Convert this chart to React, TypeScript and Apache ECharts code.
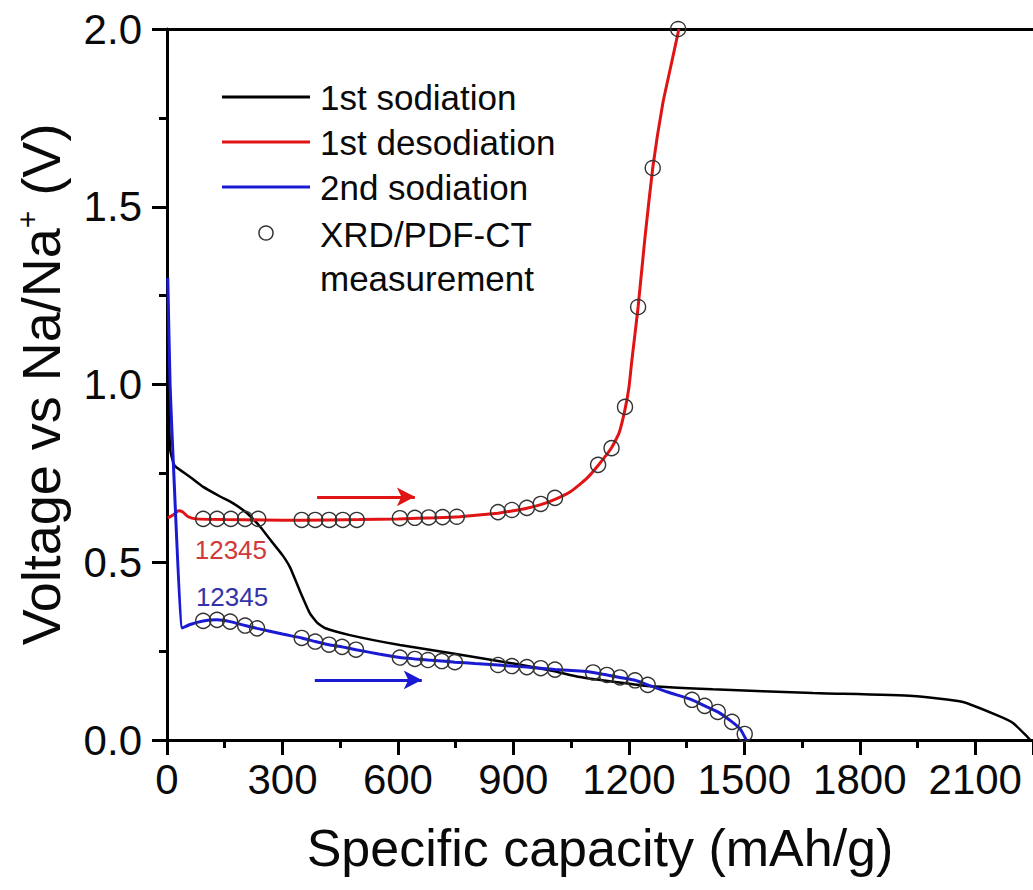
import React, { useEffect, useRef } from 'react';
import * as echarts from 'echarts';

// ---- data (capacity mAh/g, voltage V) ----
const sodiation1: [number, number][] = [
  [1, 1.4], [4, 1.0], [8, 0.82], [15, 0.785], [21, 0.77], [60, 0.74], [94, 0.712], [138, 0.685],
  [170, 0.667], [208, 0.638], [242, 0.6], [275, 0.554], [300, 0.52], [320, 0.485], [345, 0.42],
  [371, 0.357], [390, 0.33], [410, 0.315], [475, 0.295], [605, 0.267], [735, 0.245], [900, 0.215],
  [1000, 0.195], [1073, 0.177], [1150, 0.165], [1247, 0.152], [1418, 0.143], [1678, 0.132],
  [1938, 0.124], [2068, 0.107], [2156, 0.07], [2198, 0.048], [2236, 0.008], [2243, 0],
];

const desodiation1: [number, number][] = [
  [2, 0.625], [15, 0.632], [30, 0.645], [40, 0.642], [55, 0.628], [75, 0.622], [150, 0.62],
  [250, 0.619], [350, 0.618], [500, 0.62], [600, 0.622], [700, 0.625], [760, 0.628], [860, 0.638],
  [900, 0.645], [935, 0.652], [971, 0.662], [1008, 0.677], [1050, 0.7], [1090, 0.735], [1120, 0.772],
  [1155, 0.822], [1175, 0.865], [1190, 0.93], [1200, 0.99], [1208, 1.07], [1224, 1.218],
  [1242, 1.415], [1262, 1.609], [1288, 1.79], [1310, 1.9], [1330, 2.0],
];

const sodiation2: [number, number][] = [
  [2, 1.3], [8, 1.0], [16, 0.79], [40, 0.315], [60, 0.325], [94, 0.335], [130, 0.338], [164, 0.333],
  [203, 0.322], [234, 0.314], [300, 0.298], [350, 0.287], [385, 0.277], [421, 0.268], [455, 0.262],
  [491, 0.254], [550, 0.242], [605, 0.232], [644, 0.228], [678, 0.225], [714, 0.222], [748, 0.219],
  [800, 0.215], [860, 0.211], [896, 0.208], [935, 0.205], [971, 0.202], [1008, 0.198], [1073, 0.194],
  [1107, 0.19], [1143, 0.183], [1177, 0.176], [1216, 0.168], [1249, 0.155], [1300, 0.135],
  [1364, 0.113], [1397, 0.096], [1431, 0.079], [1468, 0.051], [1490, 0.03], [1505, 0],
];

const measurements: [number, number][] = [
  // on 1st desodiation
  [94, 0.622], [130, 0.622], [166, 0.622], [203, 0.622], [237, 0.622],
  [350, 0.619], [385, 0.619], [421, 0.619], [457, 0.619], [493, 0.619],
  [605, 0.624], [644, 0.625], [680, 0.626], [716, 0.627], [753, 0.628],
  [860, 0.641], [896, 0.647], [935, 0.653], [971, 0.664], [1008, 0.681],
  [1120, 0.774], [1155, 0.821], [1190, 0.937], [1224, 1.218], [1262, 1.609], [1328, 2.0],
  // on 2nd sodiation
  [94, 0.335], [130, 0.338], [164, 0.333], [203, 0.322], [234, 0.314],
  [350, 0.287], [385, 0.277], [421, 0.268], [455, 0.262], [491, 0.254],
  [605, 0.232], [644, 0.228], [678, 0.225], [714, 0.222], [748, 0.219],
  [860, 0.211], [896, 0.208], [935, 0.205], [971, 0.202], [1008, 0.198],
  [1107, 0.19], [1143, 0.183], [1177, 0.176], [1216, 0.168], [1249, 0.155],
  [1364, 0.113], [1397, 0.096], [1431, 0.079], [1468, 0.051], [1501, 0.017],
];

const seriesNames = ['1st sodiation', '1st desodiation', '2nd sodiation'];
const measurementName = 'XRD/PDF-CT\nmeasurement';
const redArrow: [number, number][] = [[390, 0.684], [644, 0.684]];
const blueArrow: [number, number][] = [[384, 0.169], [662, 0.169]];
const redLabelPos: [number, number] = [166, 0.534];
const blueLabelPos: [number, number] = [169, 0.402];
const stepLabel = '12345';

const FONT = '"Liberation Sans", Arial, sans-serif';
const BLACK = '#000000';
const RED = '#e01414';
const BLUE = '#1a1ad2';

export default function App() {
  const ref = useRef<HTMLDivElement>(null);
  useEffect(() => {
    document.body.style.margin = '0';
    const chart = echarts.init(ref.current!, null, { renderer: 'svg' });
    const legendY = [97, 142, 187, 233];
    const legendColors = [BLACK, RED, BLUE];
    const graphic: any[] = [];
    legendColors.forEach((c, i) => {
      graphic.push({
        type: 'line',
        shape: { x1: 222, y1: legendY[i], x2: 310, y2: legendY[i] },
        style: { stroke: c, lineWidth: 3 },
      });
      graphic.push({
        type: 'text',
        x: 320,
        y: legendY[i],
        style: { text: seriesNames[i], font: `35px ${FONT}`, fill: '#0a0a0a', verticalAlign: 'middle' },
      });
    });
    graphic.push({
      type: 'circle',
      shape: { cx: 266, cy: legendY[3], r: 7 },
      style: { fill: 'none', stroke: '#333', lineWidth: 1.5 },
    });
    graphic.push({
      type: 'text',
      x: 320,
      y: legendY[3] - 21,
      style: { text: measurementName, font: `35px ${FONT}`, fill: '#0a0a0a', lineHeight: 44, verticalAlign: 'top' },
    });

    chart.setOption({
      animation: false,
      backgroundColor: '#fff',
      grid: { left: 167, top: 29, right: 0, bottom: 150, containLabel: false },
      xAxis: [
        {
          type: 'value',
          min: 0,
          max: 2250,
          interval: 300,
          name: 'Specific capacity (mAh/g)',
          nameLocation: 'middle',
          nameGap: 82,
          nameTextStyle: { fontFamily: FONT, fontSize: 52, color: '#0a0a0a' },
          axisLine: { onZero: false, lineStyle: { color: '#000', width: 3 } },
          axisTick: { inside: false, length: 15, lineStyle: { width: 3, color: '#000' } },
          minorTick: { show: true, splitNumber: 2, length: 8, lineStyle: { width: 3, color: '#000' } },
          axisLabel: {
            margin: 18,
            fontFamily: FONT,
            fontSize: 42,
            color: '#0a0a0a',
            showMaxLabel: false,
            formatter: (v: number) => (v % 300 === 0 ? String(v) : ''),
          },
          splitLine: { show: false },
        },
        {
          type: 'value',
          position: 'top',
          min: 0,
          max: 2250,
          axisLine: { show: true, onZero: false, lineStyle: { color: '#000', width: 3 } },
          axisTick: { show: false },
          axisLabel: { show: false },
          splitLine: { show: false },
        },
      ],
      yAxis: {
        type: 'value',
        min: 0,
        max: 2,
        interval: 0.5,
        name: 'Voltage vs Na/Na{sup|+} (V)',
        nameLocation: 'middle',
        nameGap: 97,
        nameTextStyle: {
          fontFamily: FONT,
          fontSize: 54,
          color: '#0a0a0a',
          rich: { sup: { fontFamily: FONT, fontSize: 30, color: '#0a0a0a', padding: [0, 0, 28, 0] } },
        },
        axisLine: { show: true, onZero: false, lineStyle: { color: '#000', width: 3 } },
        axisTick: { inside: false, length: 15, lineStyle: { width: 3, color: '#000' } },
        minorTick: { show: true, splitNumber: 2, length: 8, lineStyle: { width: 3, color: '#000' } },
        axisLabel: {
          margin: 25,
          fontFamily: FONT,
          fontSize: 42,
          color: '#0a0a0a',
          formatter: (v: number) => v.toFixed(1),
        },
        splitLine: { show: false },
      },
      graphic,
      series: [
        {
          name: seriesNames[0],
          type: 'line',
          data: sodiation1,
          showSymbol: false,
          symbol: 'none',
          smooth: 0.15,
          lineStyle: { color: BLACK, width: 2.5 },
          z: 2,
        },
        {
          name: seriesNames[1],
          type: 'line',
          data: desodiation1,
          showSymbol: false,
          symbol: 'none',
          smooth: 0.15,
          lineStyle: { color: RED, width: 3 },
          z: 3,
          markLine: {
            silent: true,
            symbol: ['none', 'arrow'],
            symbolSize: [14, 18],
            label: { show: false },
            lineStyle: { color: RED, width: 3, type: 'solid' },
            data: [[{ coord: redArrow[0] }, { coord: redArrow[1] }]],
          },
          markPoint: {
            silent: true,
            symbol: 'circle',
            symbolSize: 0,
            data: [{ coord: redLabelPos }],
            label: {
              show: true,
              position: 'inside',
              formatter: stepLabel,
              fontFamily: FONT,
              fontSize: 26,
              color: '#cf3a3a',
            },
          },
        },
        {
          name: seriesNames[2],
          type: 'line',
          data: sodiation2,
          showSymbol: false,
          symbol: 'none',
          smooth: 0.15,
          lineStyle: { color: BLUE, width: 3 },
          z: 3,
          markLine: {
            silent: true,
            symbol: ['none', 'arrow'],
            symbolSize: [14, 18],
            label: { show: false },
            lineStyle: { color: BLUE, width: 3, type: 'solid' },
            data: [[{ coord: blueArrow[0] }, { coord: blueArrow[1] }]],
          },
          markPoint: {
            silent: true,
            symbol: 'circle',
            symbolSize: 0,
            data: [{ coord: blueLabelPos }],
            label: {
              show: true,
              position: 'inside',
              formatter: stepLabel,
              fontFamily: FONT,
              fontSize: 26,
              color: '#3434a8',
            },
          },
        },
        {
          name: 'XRD/PDF-CT measurement',
          type: 'scatter',
          data: measurements,
          symbol: 'circle',
          symbolSize: 15,
          clip: false,
          itemStyle: { color: 'rgba(255,255,255,0)', borderColor: '#333', borderWidth: 1.4, opacity: 1 },
          z: 5,
        },
      ],
    });
    return () => chart.dispose();
  }, []);
  return <div ref={ref} style={{ width: 1033, height: 890 }} />;
}
